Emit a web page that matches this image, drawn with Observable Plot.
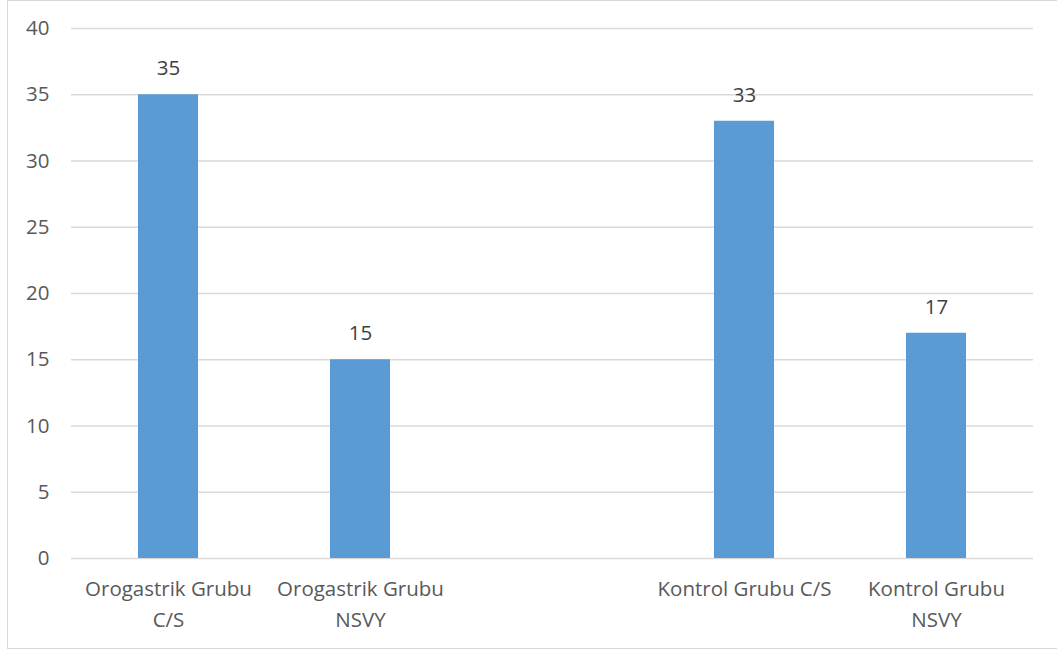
<!DOCTYPE html>
<html>
<head>
<meta charset="utf-8">
<script src="https://cdn.jsdelivr.net/npm/d3@7"></script>
<script src="https://cdn.jsdelivr.net/npm/@observablehq/plot@0.6"></script>
<style>
  html, body { margin: 0; padding: 0; background: #fff; }
  #wrap { position: relative; width: 1057px; height: 653px; overflow: hidden; }
  #frame { position: absolute; left: 7px; top: 0px; width: 1060px; height: 649px; border: 1px solid #d9d9d9; box-sizing: border-box; pointer-events: none; }
  svg { position: absolute; left: 0; top: 0; }
</style>
</head>
<body>
<div id="wrap"><div id="frame"></div></div>
<script>
const categories = ["Orogastrik Grubu\nC/S", "Orogastrik Grubu\nNSVY", " ", "Kontrol Grubu C/S", "Kontrol Grubu\nNSVY"];
const values = [35, 15, null, 33, 17];
const yTicks = [0, 5, 10, 15, 20, 25, 30, 35, 40];

const data = categories.map((c, i) => ({cat: c, value: values[i]})).filter(d => d.value != null);

const chart = Plot.plot({
  width: 1057,
  height: 653,
  marginLeft: 71,
  marginRight: 24,
  marginTop: 28,
  marginBottom: 95,
  style: {fontFamily: "'Open Sans', sans-serif", fontSize: "20.5px", color: "#595959", background: "transparent"},
  x: {domain: categories, paddingInner: 0.69, paddingOuter: 0.345, label: null},
  y: {domain: [0, 40], ticks: yTicks, label: null},
  marks: [
    Plot.gridY(yTicks, {stroke: "#d9d9d9", strokeOpacity: 1, strokeWidth: 1.3}),
    Plot.barY(data, {x: "cat", y: "value", fill: "#5B9BD5"}),
    Plot.text(data, {x: "cat", y: "value", text: d => String(d.value), dy: -26, fill: "#404040", fontSize: 20.5}),
    Plot.axisY(yTicks, {tickSize: 0, tickPadding: 22, fontSize: 20.5, fill: "#595959"}),
    Plot.axisX({tickSize: 0, tickPadding: 16, fontSize: 20.5, fill: "#595959", lineHeight: 1.5, textAnchor: "middle"})
  ]
});
document.getElementById("wrap").prepend(chart);
</script>
</body>
</html>
